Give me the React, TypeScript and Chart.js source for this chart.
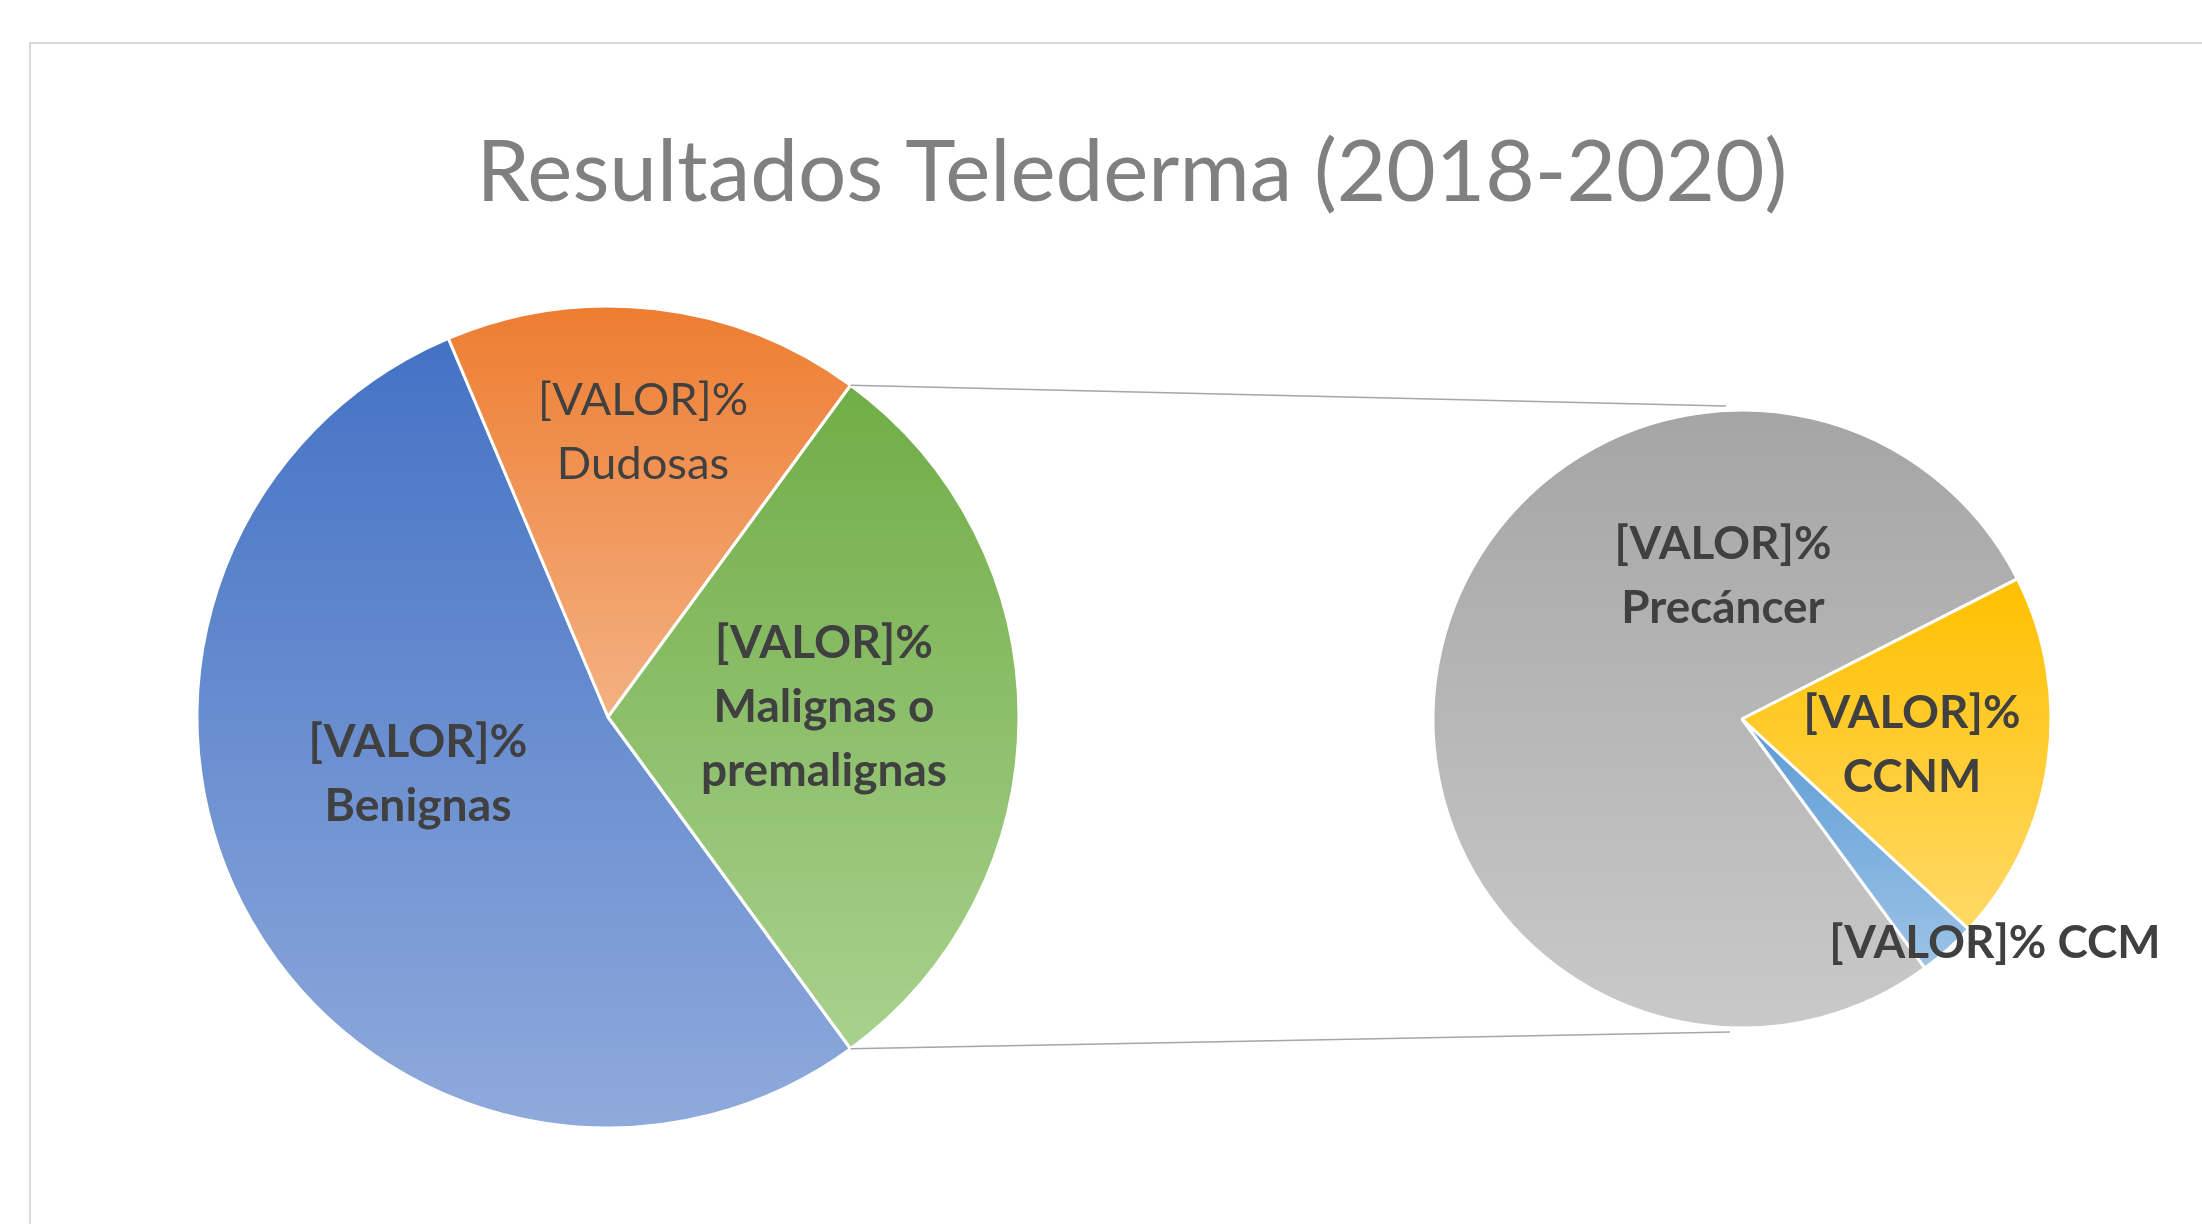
import React, { useEffect, useRef } from 'react';
import { Chart, registerables } from 'chart.js';

Chart.register(...registerables);

// ---------------- data ----------------
const TITLE = 'Resultados Telederma (2018-2020)';
const VALUE_TEXT = '[VALOR]%';
const mainLabels = ['Benignas', 'Dudosas'];
const mainValues = [53.7, 16.4];
const otherLabel = 'Malignas o premalignas';
const subLabels = ['Precáncer', 'CCNM', 'CCM'];
const subValues = [23.2, 5.8, 0.9];

// ---------------- styles ----------------
const mainTop = ['#4472C4', '#ED7D31', '#70AD47'];
const mainBottom = ['#8FAADC', '#F4B183', '#A9D18E'];
const subTop = ['#A5A5A5', '#FFC000', '#5B9BD5'];
const subBottom = ['#C9C9C9', '#FFD966', '#9DC3E6'];

const W = 2202;
const H = 1224;
const FONT = 'Lato, "Open Sans", sans-serif';
const MAIN = { cx: 608, cy: 717, r: 411, box: 450 };
const SUB = { cx: 1742, cy: 719, r: 309, box: 340 };

const otherValue = subValues.reduce((a, b) => a + b, 0);
const mainAll = [...mainValues, otherValue];
const totalAll = mainAll.reduce((a, b) => a + b, 0);
const mainRotation = 90 + ((otherValue / totalAll) * 360) / 2;
const subRotation = 143.7;

type LabelSpec = { lines: string[]; bold: boolean; dx: number; dy: number; target: number; single?: boolean };

const mainLabelLayout: LabelSpec[] = [
  { lines: [VALUE_TEXT, mainLabels[0]], bold: true, dx: -190, dy: 55, target: 219 },
  { lines: [VALUE_TEXT, mainLabels[1]], bold: false, dx: 35, dy: -286, target: 210 },
  { lines: [VALUE_TEXT, 'Malignas o', 'premalignas'], bold: true, dx: 216, dy: -12, target: 218 },
];
const subLabelLayout: LabelSpec[] = [
  { lines: [VALUE_TEXT, subLabels[0]], bold: true, dx: -19, dy: -145, target: 217 },
  { lines: [VALUE_TEXT, subLabels[1]], bold: true, dx: 170, dy: 24, target: 217 },
  { lines: [VALUE_TEXT + ' ' + subLabels[2]], bold: true, dx: 253, dy: 222, target: 217, single: true },
];
const LINE_PITCH = 64;

function fitSize(ctx: CanvasRenderingContext2D, text: string, weight: string, target: number) {
  ctx.font = `${weight} 100px ${FONT}`;
  const w = ctx.measureText(text).width;
  return (100 * target) / w;
}

function sliceGradient(tops: string[], bottoms: string[], radius: number, rotation: number) {
  return (c: any) => {
    const chart = c.chart;
    const area = chart.chartArea;
    const i = c.dataIndex;
    if (!area || i === undefined) return tops[i ?? 0];
    const vals = c.dataset.data as number[];
    const total = vals.reduce((a: number, b: number) => a + b, 0);
    let a0 = rotation;
    for (let k = 0; k < i; k++) a0 += (vals[k] / total) * 360;
    const a1 = a0 + (vals[i] / total) * 360;
    const cx = (area.left + area.right) / 2;
    const cy = (area.top + area.bottom) / 2;
    const ys = [cy, cy - radius * Math.cos((a0 * Math.PI) / 180), cy - radius * Math.cos((a1 * Math.PI) / 180)];
    for (let k = Math.ceil(a0 / 180); k * 180 <= a1; k++) ys.push(k % 2 === 0 ? cy - radius : cy + radius);
    const y0 = Math.min(...ys);
    const y1 = Math.max(...ys);
    const g = chart.ctx.createLinearGradient(0, y0, 0, y1);
    g.addColorStop(0, tops[i]);
    g.addColorStop(1, bottoms[i]);
    return g;
  };
}

function labelPlugin(id: string, specs: LabelSpec[]) {
  return {
    id,
    afterDatasetsDraw(chart: any) {
      const ctx: CanvasRenderingContext2D = chart.ctx;
      const meta = chart.getDatasetMeta(0);
      const el = meta.data[0];
      if (!el) return;
      const { x, y } = el.getProps(['x', 'y'], true);
      ctx.save();
      ctx.fillStyle = '#404040';
      ctx.textAlign = 'center';
      ctx.textBaseline = 'alphabetic';
      specs.forEach((s) => {
        const weight = s.bold ? 'bold' : 'normal';
        const size = fitSize(ctx, VALUE_TEXT, weight, s.target);
        ctx.font = `${weight} ${size}px ${FONT}`;
        const capH = ctx.measureText('H').actualBoundingBoxAscent;
        const n = s.lines.length;
        s.lines.forEach((line, j) => {
          const capCenter = y + s.dy + (j - (n - 1) / 2) * LINE_PITCH;
          ctx.fillText(line, x + s.dx, capCenter + capH / 2);
        });
      });
      ctx.restore();
    },
  };
}

const titlePlugin = {
  id: 'titleText',
  afterDraw(chart: any) {
    const ctx: CanvasRenderingContext2D = chart.ctx;
    ctx.save();
    const size = fitSize(ctx, TITLE, 'normal', 1311);
    ctx.font = `normal ${size}px ${FONT}`;
    ctx.fillStyle = '#808080';
    ctx.textAlign = 'center';
    ctx.textBaseline = 'alphabetic';
    ctx.fillText(TITLE, 1132, 201);
    ctx.restore();
  },
};

function connectorPlugin(getMain: () => Chart | null) {
  return {
    id: 'connectors',
    afterDraw(chart: any) {
      const main: any = getMain();
      if (!main) return;
      const otherArc = main.getDatasetMeta(0).data[2];
      const subArc = chart.getDatasetMeta(0).data[0];
      if (!otherArc || !subArc) return;
      const a = otherArc.getProps(['x', 'y', 'startAngle', 'endAngle', 'outerRadius'], true);
      const b = subArc.getProps(['x', 'y', 'outerRadius'], true);
      const ctx: CanvasRenderingContext2D = chart.ctx;
      ctx.save();
      ctx.strokeStyle = '#A6A6A6';
      ctx.lineWidth = 1.6;
      ctx.beginPath();
      ctx.moveTo(a.x + a.outerRadius * Math.cos(a.startAngle), a.y + a.outerRadius * Math.sin(a.startAngle));
      ctx.lineTo(b.x - 16, b.y - b.outerRadius - 4);
      ctx.moveTo(a.x + a.outerRadius * Math.cos(a.endAngle), a.y + a.outerRadius * Math.sin(a.endAngle));
      ctx.lineTo(b.x - 12, b.y + b.outerRadius + 4);
      ctx.stroke();
      ctx.restore();
    },
  };
}

function padFor(g: { cx: number; cy: number; box: number }) {
  return { left: g.cx - g.box, right: W - g.cx - g.box, top: g.cy - g.box, bottom: H - g.cy - g.box };
}

export default function App() {
  const mainRef = useRef<HTMLCanvasElement>(null);
  const subRef = useRef<HTMLCanvasElement>(null);

  useEffect(() => {
    if (!mainRef.current || !subRef.current) return;
    const mainChart = new Chart(mainRef.current, {
      type: 'pie',
      data: {
        labels: [...mainLabels, otherLabel],
        datasets: [
          {
            data: mainAll,
            backgroundColor: sliceGradient(mainTop, mainBottom, MAIN.r, mainRotation) as any,
            borderColor: '#FFFFFF',
            borderWidth: 3,
          },
        ],
      },
      options: {
        responsive: false,
        animation: false,
        events: [],
        rotation: mainRotation,
        radius: MAIN.r,
        layout: { padding: padFor(MAIN) },
        plugins: { legend: { display: false }, tooltip: { enabled: false }, title: { display: false } },
      } as any,
      plugins: [titlePlugin, labelPlugin('mainLabels', mainLabelLayout)],
    });
    const subChart = new Chart(subRef.current, {
      type: 'pie',
      data: {
        labels: subLabels,
        datasets: [
          {
            data: subValues,
            backgroundColor: sliceGradient(subTop, subBottom, SUB.r, subRotation) as any,
            borderColor: '#FFFFFF',
            borderWidth: 3,
          },
        ],
      },
      options: {
        responsive: false,
        animation: false,
        events: [],
        rotation: subRotation,
        radius: SUB.r,
        layout: { padding: padFor(SUB) },
        plugins: { legend: { display: false }, tooltip: { enabled: false }, title: { display: false } },
      } as any,
      plugins: [labelPlugin('subLabels', subLabelLayout), connectorPlugin(() => mainChart)],
    });
    return () => {
      subChart.destroy();
      mainChart.destroy();
    };
  }, []);

  return (
    <div style={{ position: 'fixed', left: 0, top: 0, width: W, height: H, overflow: 'hidden', background: '#FFFFFF' }}>
      <div
        style={{
          position: 'absolute',
          left: 29,
          top: 42,
          width: 2400,
          height: 1400,
          border: '2px solid #D9D9D9',
          boxSizing: 'border-box',
        }}
      />
      <canvas ref={mainRef} width={W} height={H} style={{ position: 'absolute', left: 0, top: 0 }} />
      <canvas ref={subRef} width={W} height={H} style={{ position: 'absolute', left: 0, top: 0 }} />
    </div>
  );
}
